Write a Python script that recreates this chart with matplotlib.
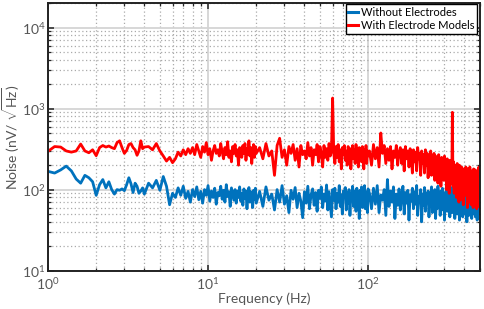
import numpy as np
import matplotlib
matplotlib.use("Agg")
import matplotlib.pyplot as plt
from matplotlib.ticker import LogLocator

plt.rcParams['font.family'] = ['Lato', 'DejaVu Sans']
plt.rcParams['mathtext.fontset'] = 'custom'
plt.rcParams['mathtext.rm'] = 'Lato'
plt.rcParams['mathtext.default'] = 'regular'

# frequency grid (Hz), four bands with coarser resolution at the low end
freq = np.concatenate([
    np.arange(1.0, 4.01, 0.1),
    np.arange(4.25, 20.01, 0.25),
    np.arange(21, 101, 1.0),
    np.arange(102, 499, 3.0),
])

# noise with electrode models (nV/sqrt(Hz))
with_electrodes = [
    # 1.0 - 4.0 Hz
    297, 340, 335, 300, 290, 300, 365, 300, 285, 310, 262, 330, 350, 335, 345, 330,
    320, 380, 400, 330, 280, 305, 360, 370, 330, 310, 265, 300, 400, 320, 335,
    # 4.25 - 20 Hz
    340, 310, 370, 300, 260, 225, 250, 215, 240, 290, 260, 310, 270, 320, 280, 330,
    270, 360, 300, 250, 340, 290, 380, 270, 320, 230, 300, 350, 280, 310, 260, 370,
    290, 240, 330, 270, 390, 250, 300, 220, 340, 280, 360, 260, 310, 200, 330, 290,
    250, 350, 280, 370, 230, 320, 270, 400, 260, 330, 210, 300, 360, 250, 340, 280,
    # 21 - 100 Hz
    330, 240, 370, 260, 300, 150, 350, 430, 250, 310,
    200, 340, 280, 360, 230, 320, 190, 350, 270, 300,
    240, 380, 260, 330, 200, 310, 270, 360, 220, 340,
    280, 190, 350, 250, 320, 230, 370, 260, 300, 1350,
    280, 210, 340, 250, 360, 220, 310, 180, 330, 270,
    350, 230, 300, 200, 340, 260, 320, 180, 290, 350,
    240, 310, 210, 360, 260, 300, 190, 330, 250, 320,
    220, 340, 270, 180, 310, 240, 350, 210, 300, 260,
    # 102 - 498 Hz
    300, 200, 360, 240, 330, 190, 500, 280, 350, 210,
    320, 230, 340, 180, 300, 250, 350, 200, 290, 330,
    210, 310, 170, 340, 240, 300, 190, 320, 260, 160,
    310, 220, 290, 170, 330, 240, 280, 150, 300, 210,
    270, 160, 310, 200, 280, 140, 260, 230, 300, 150,
    250, 190, 280, 130, 260, 210, 240, 120, 270, 180,
    230, 110, 250, 170, 220, 130, 260, 150, 200, 100,
    240, 160, 210, 90, 230, 140, 200, 120, 900, 110,
    220, 90, 200, 150, 190, 80, 210, 130, 180, 70,
    200, 120, 170, 75, 190, 140, 160, 65, 180, 110,
    170, 85, 190, 120, 150, 60, 180, 100, 160, 70,
    190, 110, 150, 65, 170, 95, 140, 60, 180, 105,
    150, 70, 175, 90, 135, 58, 165, 100, 145, 62,
    190, 85, 160,
]

# noise without electrodes (nV/sqrt(Hz))
without_electrodes = [
    # 1.0 - 4.0 Hz
    168, 160, 175, 195, 170, 135, 120, 150, 140, 125, 85, 115, 133, 105, 125, 100,
    88, 100, 98, 102, 97, 115, 140, 118, 92, 120, 110, 90, 96, 105, 88,
    # 4.25 - 20 Hz
    120, 105, 130, 98, 145, 110, 65, 90, 80, 105, 85, 110, 78, 95, 70, 100,
    82, 108, 75, 95, 68, 100, 85, 112, 72, 96, 80, 104, 66, 92, 84, 110,
    76, 98, 70, 115, 82, 94, 62, 105, 88, 74, 100, 68, 96, 80, 108, 72,
    90, 64, 102, 78, 96, 58, 88, 106, 70, 94, 82, 60, 98, 76, 104, 68,
    # 21 - 100 Hz
    95, 62, 108, 74, 88, 56, 100, 70, 112, 66,
    84, 52, 98, 76, 106, 60, 90, 72, 45, 94,
    68, 110, 58, 86, 102, 64, 92, 54, 98, 78,
    108, 60, 88, 72, 114, 56, 94, 66, 46, 100,
    74, 104, 58, 90, 70, 112, 62, 86, 50, 96,
    80, 106, 56, 92, 68, 100, 48, 88, 74, 110,
    62, 96, 78, 54, 104, 70, 90, 44, 98, 66,
    108, 60, 86, 76, 112, 58, 94, 70, 52, 102,
    # 102 - 498 Hz
    90, 58, 104, 66, 112, 52, 86, 74, 100, 48,
    133, 62, 96, 70, 108, 44, 88, 64, 102, 56,
    84, 110, 50, 92, 68, 98, 42, 86, 72, 104,
    58, 94, 66, 112, 48, 82, 70, 100, 40, 88,
    64, 106, 54, 90, 72, 96, 46, 84, 62, 108,
    52, 92, 68, 100, 44, 86, 58, 110, 66, 80,
    48, 96, 62, 104, 56, 88, 42, 92, 70, 112,
    54, 84, 64, 100, 46, 90, 60, 106, 52, 82,
    68, 98, 44, 88, 58, 110, 50, 80, 62, 96,
    42, 86, 66, 104, 54, 92, 46, 84, 60, 108,
    50, 88, 64, 98, 40, 82, 58, 100, 48, 90,
    62, 112, 52, 86, 44, 94, 60, 104, 50, 78,
    66, 100, 46, 88, 56, 108, 42, 84, 62, 96,
    52, 110, 70,
]

labels = ["Without Electrodes", "With Electrode Models"]
colors = ["#0072BD", "#FF0000"]

W, H = 485, 309
fig = plt.figure(figsize=(W / 100, H / 100), dpi=100)
ax = fig.add_axes([48 / W, (H - 270.6) / H, 432 / W, 267.4 / H])

ax.plot(freq, without_electrodes, color=colors[0], lw=2.0, label=labels[0])
ax.plot(freq, with_electrodes, color=colors[1], lw=2.0, label=labels[1])

ax.set_xscale("log")
ax.set_yscale("log")
ax.set_xlim(1, 500)
ax.set_ylim(10, 2e4)
ax.yaxis.set_minor_locator(LogLocator(base=10, subs=np.arange(2, 10), numticks=20))
ax.xaxis.set_minor_locator(LogLocator(base=10, subs=np.arange(2, 10), numticks=20))

ax.set_axisbelow(True)
ax.grid(which="major", color="#d4d4d4", linestyle="-", linewidth=1.3)
ax.grid(which="minor", color="#aaaaaa", linestyle=(0, (1, 2)), linewidth=0.9)

ax.tick_params(which="both", direction="in", top=True, right=True, pad=2,
               colors="#222222", labelcolor="#555555", labelsize=10)
ax.tick_params(axis="x", which="both", pad=4)
ax.tick_params(which="major", length=4, width=1.1)
ax.tick_params(which="minor", length=2.5, width=0.9)
for s in ax.spines.values():
    s.set_linewidth(1.4)
    s.set_color("#222222")

ax.set_xlabel("Frequency (Hz)", color="#555555", fontsize=10, labelpad=0)
ax.set_ylabel(r"Noise (nV/ $\sqrt{Hz}$)", color="#555555", fontsize=10)
ax.yaxis.set_label_coords(-0.06, 0.5)

leg = ax.legend(loc="upper right", bbox_to_anchor=(429 / 432, 1 - 1 / 267.4),
                borderaxespad=0, fontsize=8, fancybox=False, framealpha=1,
                edgecolor="black", handlelength=0.9, handletextpad=0.2,
                borderpad=0.25, labelspacing=0.2)
leg.get_frame().set_linewidth(1.0)
for ln in leg.get_lines():
    ln.set_linewidth(2.2)

fig.savefig("out.png", dpi=100)
